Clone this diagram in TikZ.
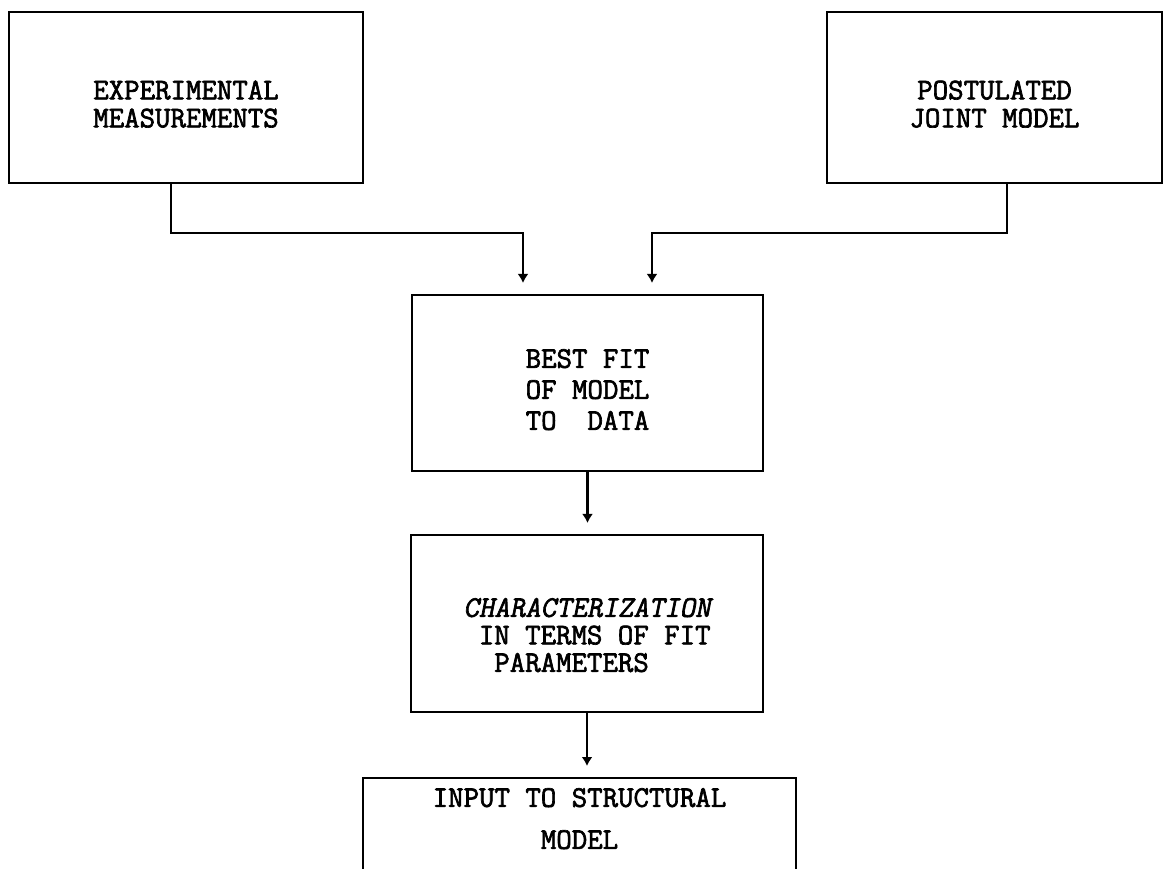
\documentclass[tikz,border=0pt]{standalone}
\usepackage{fontspec}
\newfontfamily\typer{Latin Modern Mono}[AutoFakeBold=2.2,BoldItalicFont=Latin Modern Mono,BoldItalicFeatures={FakeBold=2.2,FakeSlant=0.2}]
\usetikzlibrary{arrows.meta}

\begin{document}
\begin{tikzpicture}[x=1pt,y=-1pt]
  \tikzset{block/.style = {draw,line width=2.2pt,inner sep=0pt,align=center,font=\typer\bfseries\fontsize{30}{28}\selectfont}}
  \tikzset{link/.style = {line width=2.2pt,-{Latex[length=9pt,width=11pt]},shorten >=11pt}}

  \clip (0,0) rectangle (1164,869);

	% inputs
	\node[block,minimum width=354pt,minimum height=171pt] (exp) at (186,97.5) {\rule{0pt}{32pt}EXPERIMENTAL\\MEASUREMENTS};
	\node[block,minimum width=335pt,minimum height=171pt] (pos) at (994.5,97.5) {\rule{0pt}{32pt}POSTULATED\\JOINT MODEL};
	
	% chain
	\node[block,minimum width=351pt,minimum height=176pt] (fit) at (587.5,383) {\rule{0pt}{32pt}BEST FIT\\[3pt]OF MODEL\\[3pt]TO~~DATA};
	\node[block,minimum width=352pt,minimum height=177pt,align=left] (chr) at (587,623.5) {\rule{0pt}{42pt}{\itshape CHARACTERIZATION}\\[-0.5pt]\phantom{C}IN TERMS OF FIT\\[-0.5pt]\phantom{CC}PARAMETERS};
	\node[block,minimum width=433pt,anchor=north,inner ysep=10pt,text depth=80pt] (inp) at (579.5,777) {INPUT TO STRUCTURAL\\[14pt]MODEL};
	
	\draw[link] ([xshift=-15pt]exp.south) -- ++(0,49) -| ([xshift=-64.5pt]fit.north);
	\draw[link] ([xshift=12.5pt]pos.south) -- ++(0,49) -| ([xshift=64.5pt]fit.north);
	
       \foreach \from/\to in {fit/chr, chr/inp}
    \draw[link] (\from.south) -- (\from.south |- \to.north);
\end{tikzpicture}
\end{document}
